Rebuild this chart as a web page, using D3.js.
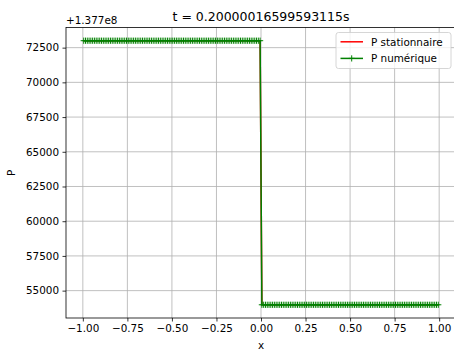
<!DOCTYPE html>
<html><head><meta charset="utf-8">
<script src="https://cdn.jsdelivr.net/npm/d3@7/dist/d3.min.js"></script>
<style>body{margin:0;background:#fff}svg{display:block;font-family:"DejaVu Sans",sans-serif}</style>
</head><body><svg id="c" width="454" height="352"></svg>
<script>
const titleText = "t = 0.20000016599593115s";
const offsetText = "+1.377e8";
const xTicks = [-1.00,-0.75,-0.50,-0.25,0.00,0.25,0.50,0.75,1.00];
const yTicks = [55000,57500,60000,62500,65000,67500,70000,72500];
const xs = [
-0.995,-0.985,-0.975,-0.965,-0.955,-0.945,-0.935,-0.925,-0.915,-0.905,
-0.895,-0.885,-0.875,-0.865,-0.855,-0.845,-0.835,-0.825,-0.815,-0.805,
-0.795,-0.785,-0.775,-0.765,-0.755,-0.745,-0.735,-0.725,-0.715,-0.705,
-0.695,-0.685,-0.675,-0.665,-0.655,-0.645,-0.635,-0.625,-0.615,-0.605,
-0.595,-0.585,-0.575,-0.565,-0.555,-0.545,-0.535,-0.525,-0.515,-0.505,
-0.495,-0.485,-0.475,-0.465,-0.455,-0.445,-0.435,-0.425,-0.415,-0.405,
-0.395,-0.385,-0.375,-0.365,-0.355,-0.345,-0.335,-0.325,-0.315,-0.305,
-0.295,-0.285,-0.275,-0.265,-0.255,-0.245,-0.235,-0.225,-0.215,-0.205,
-0.195,-0.185,-0.175,-0.165,-0.155,-0.145,-0.135,-0.125,-0.115,-0.105,
-0.095,-0.085,-0.075,-0.065,-0.055,-0.045,-0.035,-0.025,-0.015,-0.005,
0.005,0.015,0.025,0.035,0.045,0.055,0.065,0.075,0.085,0.095,
0.105,0.115,0.125,0.135,0.145,0.155,0.165,0.175,0.185,0.195,
0.205,0.215,0.225,0.235,0.245,0.255,0.265,0.275,0.285,0.295,
0.305,0.315,0.325,0.335,0.345,0.355,0.365,0.375,0.385,0.395,
0.405,0.415,0.425,0.435,0.445,0.455,0.465,0.475,0.485,0.495,
0.505,0.515,0.525,0.535,0.545,0.555,0.565,0.575,0.585,0.595,
0.605,0.615,0.625,0.635,0.645,0.655,0.665,0.675,0.685,0.695,
0.705,0.715,0.725,0.735,0.745,0.755,0.765,0.775,0.785,0.795,
0.805,0.815,0.825,0.835,0.845,0.855,0.865,0.875,0.885,0.895,
0.905,0.915,0.925,0.935,0.945,0.955,0.965,0.975,0.985,0.995];
// P values relative to the +1.377e8 offset
const pStat = [
73000,73000,73000,73000,73000,73000,73000,73000,73000,73000,
73000,73000,73000,73000,73000,73000,73000,73000,73000,73000,
73000,73000,73000,73000,73000,73000,73000,73000,73000,73000,
73000,73000,73000,73000,73000,73000,73000,73000,73000,73000,
73000,73000,73000,73000,73000,73000,73000,73000,73000,73000,
73000,73000,73000,73000,73000,73000,73000,73000,73000,73000,
73000,73000,73000,73000,73000,73000,73000,73000,73000,73000,
73000,73000,73000,73000,73000,73000,73000,73000,73000,73000,
73000,73000,73000,73000,73000,73000,73000,73000,73000,73000,
73000,73000,73000,73000,73000,73000,73000,73000,73000,73000,
53980,53980,53980,53980,53980,53980,53980,53980,53980,53980,
53980,53980,53980,53980,53980,53980,53980,53980,53980,53980,
53980,53980,53980,53980,53980,53980,53980,53980,53980,53980,
53980,53980,53980,53980,53980,53980,53980,53980,53980,53980,
53980,53980,53980,53980,53980,53980,53980,53980,53980,53980,
53980,53980,53980,53980,53980,53980,53980,53980,53980,53980,
53980,53980,53980,53980,53980,53980,53980,53980,53980,53980,
53980,53980,53980,53980,53980,53980,53980,53980,53980,53980,
53980,53980,53980,53980,53980,53980,53980,53980,53980,53980,
53980,53980,53980,53980,53980,53980,53980,53980,53980,53980];
const pNum = [
73000,73000,73000,73000,73000,73000,73000,73000,73000,73000,
73000,73000,73000,73000,73000,73000,73000,73000,73000,73000,
73000,73000,73000,73000,73000,73000,73000,73000,73000,73000,
73000,73000,73000,73000,73000,73000,73000,73000,73000,73000,
73000,73000,73000,73000,73000,73000,73000,73000,73000,73000,
73000,73000,73000,73000,73000,73000,73000,73000,73000,73000,
73000,73000,73000,73000,73000,73000,73000,73000,73000,73000,
73000,73000,73000,73000,73000,73000,73000,73000,73000,73000,
73000,73000,73000,73000,73000,73000,73000,73000,73000,73000,
73000,73000,73000,73000,73000,73000,73000,73000,73000,73000,
53980,53980,53980,53980,53980,53980,53980,53980,53980,53980,
53980,53980,53980,53980,53980,53980,53980,53980,53980,53980,
53980,53980,53980,53980,53980,53980,53980,53980,53980,53980,
53980,53980,53980,53980,53980,53980,53980,53980,53980,53980,
53980,53980,53980,53980,53980,53980,53980,53980,53980,53980,
53980,53980,53980,53980,53980,53980,53980,53980,53980,53980,
53980,53980,53980,53980,53980,53980,53980,53980,53980,53980,
53980,53980,53980,53980,53980,53980,53980,53980,53980,53980,
53980,53980,53980,53980,53980,53980,53980,53980,53980,53980,
53980,53980,53980,53980,53980,53980,53980,53980,53980,53980];
const legendLabels = ["P stationnaire","P numérique"];

const svg = d3.select("#c");
const L = 66, R = 456, T = 27.5, B = 318;
const x = d3.scaleLinear().domain([-1.0945, 1.0945]).range([L, R]);
const y = d3.scaleLinear().domain([53029, 73951]).range([B, T]);
const fmtX = d => d3.format(".2f")(d).replace("-", "\u2212");

// grid
const g = svg.append("g");
g.selectAll(".gx").data(xTicks).join("line")
  .attr("x1", d => x(d)).attr("x2", d => x(d)).attr("y1", T).attr("y2", B)
  .attr("stroke", "#b0b0b0").attr("stroke-width", 0.8);
g.selectAll(".gy").data(yTicks).join("line")
  .attr("x1", L).attr("x2", R).attr("y1", d => y(d)).attr("y2", d => y(d))
  .attr("stroke", "#b0b0b0").attr("stroke-width", 0.8);

const clip = svg.append("clipPath").attr("id", "clp").append("rect")
  .attr("x", L).attr("y", T).attr("width", R - L).attr("height", B - T);
const plot = svg.append("g").attr("clip-path", "url(#clp)");
const idx = d3.range(xs.length);
const line = d3.line().x(i => x(xs[i]));
plot.append("path").attr("d", line.y(i => y(pStat[i]))(idx))
  .attr("fill", "none").attr("stroke", "#ff0000").attr("stroke-width", 1.5);
plot.append("path").attr("d", d3.line().x(i => x(xs[i])).y(i => y(pNum[i]))(idx))
  .attr("fill", "none").attr("stroke", "#008000").attr("stroke-width", 1.5);
const ms = 3.1;
plot.append("g").selectAll("path").data(idx).join("path")
  .attr("d", i => { const cx = x(xs[i]), cy = y(pNum[i]);
    return `M${cx - ms},${cy}H${cx + ms}M${cx},${cy - ms}V${cy + ms}`; })
  .attr("stroke", "#008000").attr("stroke-width", 1).attr("fill", "none");

// axes
const ax = svg.append("g").attr("transform", `translate(0,${B})`)
  .call(d3.axisBottom(x).tickValues(xTicks).tickFormat(fmtX).tickSize(3.5).tickPadding(3.5));
const ay = svg.append("g").attr("transform", `translate(${L},0)`)
  .call(d3.axisLeft(y).tickValues(yTicks).tickFormat(d3.format("d")).tickSize(3.5).tickPadding(3.5));
[ax, ay].forEach(a => {
  a.select(".domain").remove();
  a.selectAll("line").attr("stroke", "#000").attr("stroke-width", 0.8);
  a.selectAll("text").attr("fill", "#000").style("font-size", "10.4px").style("font-family", "DejaVu Sans");
});
// spines
svg.append("rect").attr("x", L).attr("y", T).attr("width", R - L).attr("height", B - T)
  .attr("fill", "none").attr("stroke", "#000").attr("stroke-width", 0.8);

svg.append("text").attr("x", (L + R) / 2).attr("y", 20.5).attr("text-anchor", "middle")
  .style("font-size", "12.5px").text(titleText);
svg.append("text").attr("x", L).attr("y", 24).style("font-size", "10.4px").text(offsetText);
svg.append("text").attr("x", (L + R) / 2).attr("y", 349).attr("text-anchor", "middle")
  .style("font-size", "10.4px").text("x");
svg.append("text").attr("transform", `translate(15,${(T + B) / 2}) rotate(-90)`)
  .attr("text-anchor", "middle").style("font-size", "10.4px").text("P");

// legend
const lg = svg.append("g");
lg.append("rect").attr("x", 336).attr("y", 32.5).attr("width", 115).attr("height", 36)
  .attr("rx", 2.5).attr("fill", "#fff").attr("fill-opacity", 0.8)
  .attr("stroke", "#cccccc").attr("stroke-width", 0.8);
const colors = ["#ff0000", "#008000"];
legendLabels.forEach((lab, i) => {
  const cy = 41.8 + i * 16.6;
  lg.append("line").attr("x1", 340.5).attr("x2", 363).attr("y1", cy).attr("y2", cy)
    .attr("stroke", colors[i]).attr("stroke-width", 1.5);
  if (i === 1) lg.append("path").attr("d", `M${351.7 - ms},${cy}H${351.7 + ms}M351.7,${cy - ms}V${cy + ms}`)
    .attr("stroke", colors[i]).attr("stroke-width", 1);
  lg.append("text").attr("x", 371).attr("y", cy + 3.7).style("font-size", "10.4px").text(lab);
});
</script></body></html>
